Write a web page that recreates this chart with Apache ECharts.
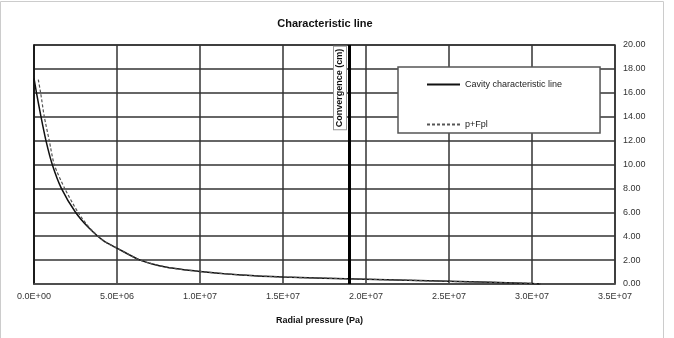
<!DOCTYPE html>
<html><head><meta charset="utf-8">
<script src="https://cdn.jsdelivr.net/npm/echarts@6/dist/echarts.min.js"></script>
<style>html,body{margin:0;padding:0;background:#fff}#c{width:674px;height:338px}</style>
</head><body><div id="c"></div>
<script>
const cavityP = [0, 0.15e6, 0.42e6, 0.72e6, 1.1e6, 1.65e6, 2.5e6, 3.3e6, 4.2e6, 5e6, 6.4e6, 8e6, 1e7, 1.25e7, 1.5e7, 2e7, 2.5e7, 3e7, 3.05e7];
const cavityU = [17.2, 16, 14, 12, 10, 8, 6, 4.7, 3.6, 3.0, 2.0, 1.4, 1.05, 0.75, 0.58, 0.4, 0.22, 0.05, 0.0];
const fplP = [0.26e6, 0.40e6, 0.62e6, 0.92e6, 1.22e6, 1.85e6, 2.65e6, 3.35e6, 4.2e6, 5e6, 6.4e6, 8e6, 1e7, 1.25e7, 1.5e7, 2e7, 2.5e7, 3e7, 3.05e7];
const fplU = [17.1, 16, 14, 12, 10, 8, 6, 4.7, 3.6, 3.0, 2.0, 1.4, 1.05, 0.75, 0.58, 0.4, 0.22, 0.05, 0.0];
const seriesNames = ['Cavity characteristic line', 'p+Fpl'];
const xTicks = ['0.0E+00','5.0E+06','1.0E+07','1.5E+07','2.0E+07','2.5E+07','3.0E+07','3.5E+07'];
const yAxisCross = 1.9e7;

const zip = (a, b) => a.map((v, i) => [v, b[i]]);
const font = 'Liberation Sans, Arial, sans-serif';
const chart = echarts.init(document.getElementById('c'));
chart.setOption({
  animation: false,
  title: { text: 'Characteristic line', left: 320, top: 13, textAlign: 'center',
    textStyle: { fontFamily: font, fontSize: 11, fontWeight: 'bold', color: '#111' } },
  grid: { left: 34, right: 59, top: 45, bottom: 54, show: true, borderColor: '#333', borderWidth: 1.5 },
  legend: {
    orient: 'vertical', left: 398, top: 67,
    padding: [13, 38, 4, 28], itemGap: 31, itemWidth: 33, itemHeight: 8,
    backgroundColor: '#fff', borderColor: '#555', borderWidth: 1.5,
    itemStyle: { opacity: 0 },
    textStyle: { fontFamily: font, fontSize: 9, color: '#222' },
    data: seriesNames
  },
  xAxis: {
    type: 'value', min: 0, max: 3.5e7, interval: 5e6,
    name: 'Radial pressure (Pa)', nameLocation: 'middle', nameGap: 32,
    nameTextStyle: { fontFamily: font, fontSize: 9, fontWeight: 'bold', color: '#111', padding: [0, 10, 0, 0] },
    axisLine: { lineStyle: { color: '#555', width: 1.5 } },
    axisTick: { show: false },
    axisLabel: { fontFamily: font, fontSize: 9, color: '#333', margin: 8,
      formatter: v => xTicks[Math.round(v / 5e6)] },
    splitLine: { show: true, lineStyle: { color: '#333', width: 1.5 } }
  },
  yAxis: {
    type: 'value', position: 'right', min: 0, max: 20, interval: 2,
    axisLine: { show: true, lineStyle: { color: '#111', width: 1.5 } },
    axisTick: { show: false },
    axisLabel: { fontFamily: font, fontSize: 9, color: '#333', margin: 8, formatter: v => v.toFixed(2) },
    splitLine: { show: true, lineStyle: { color: '#333', width: 1.5 } }
  },
  series: [
    { name: seriesNames[0], type: 'line', data: zip(cavityP, cavityU), smooth: 0.25, symbol: 'none',
      lineStyle: { color: '#111', width: 1.5 }, itemStyle: { color: '#111' },
      markLine: { silent: true, symbol: 'none', label: { show: false },
        lineStyle: { color: '#000', width: 3, type: 'solid' }, data: [{ xAxis: yAxisCross }] } },
    { name: seriesNames[1], type: 'line', data: zip(fplP, fplU), smooth: 0.25, symbol: 'none',
      lineStyle: { color: '#555', width: 1.2, type: [3, 2] }, itemStyle: { color: '#555' } }
  ],
  graphic: [
    { type: 'rect', shape: { x: 0.5, y: 1.5, width: 663, height: 340 }, style: { fill: 'none', stroke: '#ccc', lineWidth: 1 }, z: -1 },
    { type: 'text', x: 340, y: 88, rotation: Math.PI / 2, z: 100,
      style: { text: 'Convergence (cm)', fontFamily: font, fontSize: 9, fontWeight: 'bold', fill: '#111',
        align: 'center', verticalAlign: 'middle', backgroundColor: '#fff', borderColor: '#999', borderWidth: 1, padding: [2, 2, 1, 2] } }
  ]
});
</script></body></html>
